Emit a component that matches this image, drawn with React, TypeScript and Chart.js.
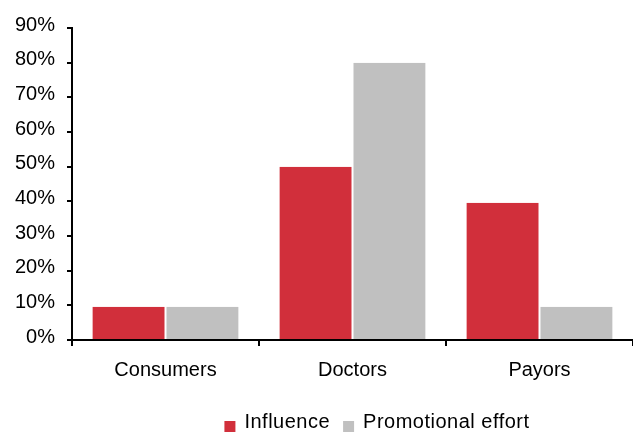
import React, { useEffect, useRef } from 'react';
import { Chart, registerables } from 'chart.js';

Chart.register(...registerables);

const categories = ['Consumers', 'Doctors', 'Payors'];
const seriesNames = ['Influence', 'Promotional effort'];
const influence = [9.6, 50, 39.6];
const promotionalEffort = [9.6, 80, 9.6];
const yMin = 0;
const yMax = 90;
const yStep = 10;

const FONT = '"Liberation Sans", Arial, Helvetica, sans-serif';
const RED = '#D12F3B';
const GREY = '#C0C0C0';

const legendPlugin = {
  id: 'customLegend',
  afterDraw(chart: any) {
    const ctx = chart.ctx as CanvasRenderingContext2D;
    ctx.save();
    ctx.font = `20px ${FONT}`;
    (ctx as any).letterSpacing = '0.5px';
    const box = 11;
    const gap = 9;
    const itemGap = 13;
    const items = chart.data.datasets.map((ds: any) => ({
      label: ds.label as string,
      color: ds.backgroundColor as string,
      w: ctx.measureText(ds.label).width,
    }));
    const total = items.reduce(
      (s: number, it: any, i: number) => s + box + gap + it.w + (i ? itemGap : 0),
      0
    );
    let x = 377 - total / 2;
    const yText = 422;
    const yBoxTop = 421;
    ctx.textBaseline = 'middle';
    ctx.textAlign = 'left';
    items.forEach((it: any, i: number) => {
      if (i) x += itemGap;
      ctx.fillStyle = it.color;
      ctx.fillRect(x, yBoxTop, box, box);
      x += box + gap;
      ctx.fillStyle = '#000';
      ctx.fillText(it.label, x, yText);
      x += it.w;
    });
    ctx.restore();
  },
};

export default function App() {
  const ref = useRef<HTMLCanvasElement | null>(null);

  useEffect(() => {
    if (!ref.current) return;
    const chart = new Chart(ref.current, {
      type: 'bar',
      data: {
        labels: categories,
        datasets: [
          {
            label: seriesNames[0],
            data: influence,
            backgroundColor: RED,
            borderColor: '#ffffff',
            borderWidth: { left: 1, right: 1, top: 0, bottom: 0 },
            categoryPercentage: 0.79,
            barPercentage: 1,
          },
          {
            label: seriesNames[1],
            data: promotionalEffort,
            backgroundColor: GREY,
            borderColor: '#ffffff',
            borderWidth: { left: 1, right: 1, top: 0, bottom: 0 },
            categoryPercentage: 0.79,
            barPercentage: 1,
          },
        ],
      },
      options: {
        responsive: false,
        animation: false,
        layout: { padding: { top: 28, left: 0, right: 0, bottom: 0 } },
        plugins: {
          legend: { display: false },
          tooltip: { enabled: false },
        },
        scales: {
          x: {
            grid: {
              display: true,
              drawOnChartArea: false,
              drawTicks: true,
              tickLength: 6,
              color: '#000',
              lineWidth: 2,
              offset: true,
            },
            border: { display: true, color: '#000', width: 2 },
            ticks: {
              font: { size: 20, family: FONT },
              color: '#000',
              padding: 12,
              maxRotation: 0,
            },
            afterFit(scale: any) {
              scale.height = 92;
            },
          },
          y: {
            min: yMin,
            max: yMax,
            grid: {
              display: true,
              drawOnChartArea: false,
              drawTicks: true,
              tickLength: 5,
              color: '#000',
              lineWidth: 2,
            },
            border: { display: true, color: '#000', width: 2 },
            ticks: {
              stepSize: yStep,
              callback: (v: any) => v + '%',
              font: { size: 20, family: FONT },
              color: '#000',
              padding: 12,
              labelOffset: -3,
            },
            afterFit(scale: any) {
              scale.width = 72;
            },
          },
        },
      },
      plugins: [legendPlugin],
    });
    return () => chart.destroy();
  }, []);

  return (
    <div style={{ position: 'absolute', left: 0, top: 0, width: 633, height: 432 }}>
      <canvas ref={ref} width={633} height={432} style={{ display: 'block' }} />
    </div>
  );
}
